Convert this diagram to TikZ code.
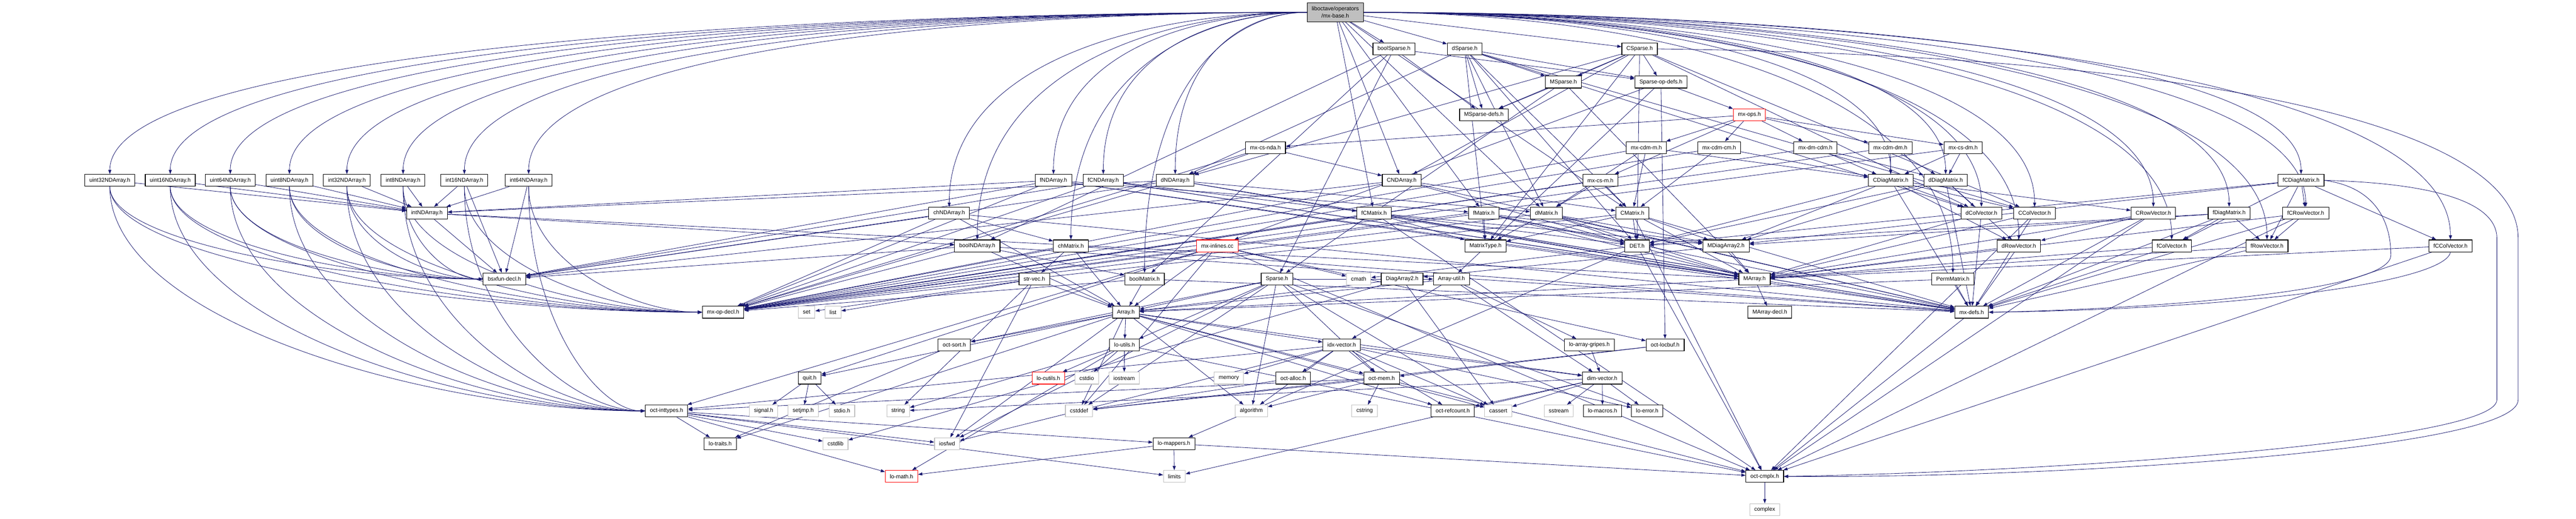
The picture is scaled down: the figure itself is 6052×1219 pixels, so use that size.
\documentclass[tikz,border=0pt]{standalone}
\usepackage{fontspec}
\setmainfont{Liberation Sans}
\usetikzlibrary{arrows.meta,backgrounds}
\definecolor{edgeblue}{HTML}{191970}
\definecolor{sysgray}{HTML}{BFBFBF}
\begin{document}
\begin{tikzpicture}[x=0.5pt, y=-0.5pt]
	\tikzstyle{every node} = [rectangle, draw=black, line width=0.7pt, fill=white, font=\fontsize{6.55}{8.5}\selectfont, inner xsep=5.4pt, inner ysep=0pt, minimum height=14pt]
	\tikzstyle{sysfile} = [draw=sysgray]
	\tikzstyle{cutfile} = [draw=red]
	\tikzstyle{topfile} = [fill=sysgray, align=center, minimum height=22pt]
	\tikzstyle{inc} = [draw=edgeblue, line width=0.5pt, -{Triangle[length=5pt, width=3.6pt]}]
	\useasboundingbox (0, 0) rectangle (6052, 1219);
	\node [topfile] (mxbase) at (3137, 29) {liboctave/operators\\/mx-base.h};
	\node (boolSparse) at (3275, 115) {boolSparse.h};
	\node (dSparse) at (3441, 115) {dSparse.h};
	\node (CSparse) at (3852, 115) {CSparse.h};
	\node (MSparse) at (3673, 193) {MSparse.h};
	\node (spopdefs) at (3902, 193) {Sparse-op-defs.h};
	\node (msdefs) at (3486, 270) {MSparse-defs.h};
	\node [cutfile] (mxops) at (4110, 270) {mx-ops.h};
	\node (mxcsnda) at (2973, 347) {mx-cs-nda.h};
	\node (mxcdmm) at (3868, 347) {mx-cdm-m.h};
	\node (mxcdmcm) at (4039, 347) {mx-cdm-cm.h};
	\node (mxdmcdm) at (4265, 347) {mx-dm-cdm.h};
	\node (mxcdmdm) at (4441, 347) {mx-cdm-dm.h};
	\node (mxcsdm) at (4612, 347) {mx-cs-dm.h};
	\node (u32) at (258, 424) {uint32NDArray.h};
	\node (u16) at (400, 424) {uint16NDArray.h};
	\node (u64) at (541, 424) {uint64NDArray.h};
	\node (u8) at (680, 424) {uint8NDArray.h};
	\node (i32) at (815, 424) {int32NDArray.h};
	\node (i8) at (947, 424) {int8NDArray.h};
	\node (i16) at (1091, 424) {int16NDArray.h};
	\node (i64) at (1242, 424) {int64NDArray.h};
	\node (fNDA) at (2475, 424) {fNDArray.h};
	\node (fCNDA) at (2592, 424) {fCNDArray.h};
	\node (dNDA) at (2761, 424) {dNDArray.h};
	\node (CNDA) at (3293, 424) {CNDArray.h};
	\node (mxcsm) at (3760, 424) {mx-cs-m.h};
	\node (CDiag) at (4442, 424) {CDiagMatrix.h};
	\node (dDiag) at (4571, 424) {dDiagMatrix.h};
	\node (fCDiag) at (5406, 424) {fCDiagMatrix.h};
	\node (intNDA) at (1003, 501) {intNDArray.h};
	\node (chNDA) at (2230, 501) {chNDArray.h};
	\node (fCMat) at (3228, 501) {fCMatrix.h};
	\node (fMat) at (3486, 501) {fMatrix.h};
	\node (dMat) at (3633, 501) {dMatrix.h};
	\node (CMat) at (3835, 501) {CMatrix.h};
	\node (dCol) at (4655, 501) {dColVector.h};
	\node (CCol) at (4780, 501) {CColVector.h};
	\node (CRow) at (5059, 501) {CRowVector.h};
	\node (fDiag) at (5237, 501) {fDiagMatrix.h};
	\node (fCRow) at (5417, 501) {fCRowVector.h};
	\node (boolNDA) at (2296, 578) {boolNDArray.h};
	\node (chMat) at (2516, 578) {chMatrix.h};
	\node [cutfile] (mxinl) at (2860, 578) {mx-inlines.cc};
	\node (mtype) at (3490, 578) {MatrixType.h};
	\node (det) at (3846, 578) {DET.h};
	\node (mdiag) at (4055, 578) {MDiagArray2.h};
	\node (dRow) at (4743, 578) {dRowVector.h};
	\node (fCol) at (5102, 578) {fColVector.h};
	\node (fRow) at (5326, 578) {fRowVector.h};
	\node (fCCol) at (5757, 578) {fCColVector.h};
	\node (bsxfun) at (1185, 656) {bsxfun-decl.h};
	\node (strvec) at (2430, 656) {str-vec.h};
	\node (boolMat) at (2689, 656) {boolMatrix.h};
	\node (sparse) at (3000, 656) {Sparse.h};
	\node [sysfile] (cmath) at (3192, 656) {cmath};
	\node (diag2) at (3294, 656) {DiagArray2.h};
	\node (autil) at (3410, 656) {Array-util.h};
	\node (marray) at (4122, 656) {MArray.h};
	\node (perm) at (4588, 656) {PermMatrix.h};
	\node (opdecl) at (1699, 734) {mx-op-decl.h};
	\node [sysfile] (set) at (1895, 734) {set};
	\node [sysfile] (list) at (1957, 734) {list};
	\node (array) at (2645, 734) {Array.h};
	\node (mdecl) at (4158, 734) {MArray-decl.h};
	\node (mxdefs) at (4632, 734) {mx-defs.h};
	\node (octsort) at (2242, 811) {oct-sort.h};
	\node (loutils) at (2642, 811) {lo-utils.h};
	\node (idxvec) at (3152, 811) {idx-vector.h};
	\node (gripes) at (3734, 811) {lo-array-gripes.h};
	\node (locbuf) at (3912, 811) {oct-locbuf.h};
	\node (quit) at (1902, 889) {quit.h};
	\node [cutfile] (locutils) at (2463, 889) {lo-cutils.h};
	\node [sysfile] (cstdio) at (2553, 889) {cstdio};
	\node [sysfile] (iostream) at (2641, 889) {iostream};
	\node [sysfile] (memory) at (2887, 889) {memory};
	\node (alloc) at (3038, 889) {oct-alloc.h};
	\node (octmem) at (3246, 889) {oct-mem.h};
	\node (dimvec) at (3764, 889) {dim-vector.h};
	\node (inttypes) at (1566, 966) {oct-inttypes.h};
	\node [sysfile] (signal) at (1794, 966) {signal.h};
	\node [sysfile] (setjmp) at (1887, 966) {setjmp.h};
	\node [sysfile] (stdio) at (1978, 966) {stdio.h};
	\node [sysfile] (string) at (2110, 966) {string};
	\node [sysfile] (cstddef) at (2535, 966) {cstddef};
	\node [sysfile] (algorithm) at (2940, 966) {algorithm};
	\node [sysfile] (cstring) at (3206, 966) {cstring};
	\node (refcount) at (3413, 966) {oct-refcount.h};
	\node [sysfile] (cassert) at (3520, 966) {cassert};
	\node [sysfile] (sstream) at (3662, 966) {sstream};
	\node (macros) at (3765, 966) {lo-macros.h};
	\node (loerror) at (3870, 966) {lo-error.h};
	\node (traits) at (1692, 1043) {lo-traits.h};
	\node [sysfile] (cstdlib) at (1963, 1043) {cstdlib};
	\node [sysfile] (iosfwd) at (2225, 1043) {iosfwd};
	\node (mappers) at (2758, 1043) {lo-mappers.h};
	\node [cutfile] (lomath) at (2118, 1120) {lo-math.h};
	\node [sysfile] (limits) at (2759, 1120) {limits};
	\node (cmplx) at (4146, 1120) {oct-cmplx.h};
	\node [sysfile] (complex) at (4146, 1198) {complex};
	\begin{pgfonlayer}{background}
	\draw [inc] (mxbase.west) .. controls (1801, 29) and (258, 124) .. (u32.north);
	\draw [inc] (mxbase.west) .. controls (1871, 29) and (400, 124) .. (u16.north);
	\draw [inc] (mxbase.west) .. controls (1931, 29) and (541, 124) .. (u64.north);
	\draw [inc] (mxbase.west) .. controls (1996, 29) and (680, 124) .. (u8.north);
	\draw [inc] (mxbase.west) .. controls (2056, 29) and (815, 124) .. (i32.north);
	\draw [inc] (mxbase.west) .. controls (2116, 29) and (947, 124) .. (i8.north);
	\draw [inc] (mxbase.west) .. controls (2181, 29) and (1091, 124) .. (i16.north);
	\draw [inc] (mxbase.west) .. controls (2251, 29) and (1242, 124) .. (i64.north);
	\draw [inc] (mxbase.west) .. controls (2691, 29) and (2230, 144) .. (chNDA.north);
	\draw [inc] (mxbase.west) .. controls (2721, 29) and (2296, 164) .. (boolNDA.north);
	\draw [inc] (mxbase.west) .. controls (2821, 29) and (2516, 164) .. (chMat.north);
	\draw [inc] (mxbase.west) .. controls (2901, 29) and (2689, 182) .. (boolMat.north);
	\draw [inc] (mxbase.west) .. controls (2801, 29) and (2475, 124) .. (fNDA.north);
	\draw [inc] (mxbase.west) .. controls (2856, 29) and (2592, 124) .. (fCNDA.north);
	\draw [inc] (mxbase.west) .. controls (2931, 29) and (2761, 124) .. (dNDA.north);
	\draw [inc] (mxbase)--(boolSparse);
	\draw [inc] (mxbase)--(dSparse);
	\draw [inc] (mxbase)--(CSparse);
	\draw [inc] (mxbase)--(CNDA);
	\draw [inc] (mxbase)--(fCMat);
	\draw [inc] (mxbase)--(fMat);
	\draw [inc] (mxbase)--(dMat);
	\draw [inc] (mxbase)--(CMat);
	\draw [inc] (mxbase.east) .. controls (3761, 29) and (4442, 124) .. (CDiag.north);
	\draw [inc] (mxbase.east) .. controls (3819, 29) and (4571, 124) .. (dDiag.north);
	\draw [inc] (mxbase.east) .. controls (4194, 29) and (5406, 124) .. (fCDiag.north);
	\draw [inc] (mxbase.east) .. controls (3854, 29) and (4655, 144) .. (dCol.north);
	\draw [inc] (mxbase.east) .. controls (3914, 29) and (4780, 144) .. (CCol.north);
	\draw [inc] (mxbase.east) .. controls (4039, 29) and (5059, 144) .. (CRow.north);
	\draw [inc] (mxbase.east) .. controls (4119, 29) and (5237, 144) .. (fDiag.north);
	\draw [inc] (mxbase.east) .. controls (4199, 29) and (5417, 144) .. (fCRow.north);
	\draw [inc] (mxbase.east) .. controls (3894, 29) and (4743, 164) .. (dRow.north);
	\draw [inc] (mxbase.east) .. controls (4059, 29) and (5102, 164) .. (fCol.north);
	\draw [inc] (mxbase.east) .. controls (4159, 29) and (5326, 164) .. (fRow.north);
	\draw [inc] (mxbase.east) .. controls (4354, 29) and (5757, 164) .. (fCCol.north);
	\draw [inc] (mxbase.east) .. controls (3824, 29) and (4588, 182) .. (perm.north);
	\draw [inc] (boolSparse)--(sparse);
	\draw [inc] (boolSparse)--(msdefs);
	\draw [inc] (boolSparse)--(spopdefs);
	\draw [inc] (boolSparse)--(boolMat);
	\draw [inc] (boolSparse)--(boolNDA);
	\draw [inc] (dSparse)--(MSparse);
	\draw [inc] (dSparse)--(msdefs);
	\draw [inc] (dSparse)--(spopdefs);
	\draw [inc] (dSparse)--(dMat);
	\draw [inc] (dSparse)--(CMat);
	\draw [inc] (dSparse)--(dNDA);
	\draw [inc] (dSparse)--(dCol);
	\draw [inc] (dSparse)--(CCol);
	\draw [inc] (dSparse)--(det);
	\draw [inc] (dSparse)--(mtype);
	\draw [inc] (CSparse)--(MSparse);
	\draw [inc] (CSparse)--(msdefs);
	\draw [inc] (CSparse)--(spopdefs);
	\draw [inc] (CSparse)--(dNDA);
	\draw [inc] (CSparse)--(CNDA);
	\draw [inc] (CSparse)--(dCol);
	\draw [inc] (CSparse)--(CCol);
	\draw [inc] (CSparse.east) .. controls (5200, 130) and (5916, 300) .. (5916, 560) -- (5916, 940) .. controls (5916, 1060) and (4800, 1125) .. (cmplx.east);
	\draw [inc] (CSparse)--(det);
	\draw [inc] (CSparse)--(mtype);
	\draw [inc] (MSparse)--(marray);
	\draw [inc] (MSparse)--(sparse);
	\draw [inc] (MSparse)--(msdefs);
	\draw [inc] (spopdefs)--(autil);
	\draw [inc] (spopdefs)--(mxops);
	\draw [inc] (spopdefs)--(locbuf);
	\draw [inc] (spopdefs)--(mxinl);
	\draw [inc] (mxops)--(mxcsnda);
	\draw [inc] (mxops)--(mxcdmm);
	\draw [inc] (mxops)--(mxcdmcm);
	\draw [inc] (mxops)--(mxdmcdm);
	\draw [inc] (mxops)--(mxcdmdm);
	\draw [inc] (mxops)--(mxcsdm);
	\draw [inc] (mxops)--(mxcsm);
	\draw [inc] (mxcsnda)--(dNDA);
	\draw [inc] (mxcsnda)--(CNDA);
	\draw [inc] (mxcsnda)--(opdecl);
	\draw [inc] (mxcdmm)--(CDiag);
	\draw [inc] (mxcdmm)--(dMat);
	\draw [inc] (mxcdmm)--(CMat);
	\draw [inc] (mxcdmm)--(opdecl);
	\draw [inc] (mxcdmcm)--(CDiag);
	\draw [inc] (mxcdmcm)--(CMat);
	\draw [inc] (mxcdmcm)--(opdecl);
	\draw [inc] (mxdmcdm)--(dDiag);
	\draw [inc] (mxdmcdm)--(CDiag);
	\draw [inc] (mxdmcdm)--(opdecl);
	\draw [inc] (mxcdmdm)--(CDiag);
	\draw [inc] (mxcdmdm)--(dDiag);
	\draw [inc] (mxcdmdm)--(opdecl);
	\draw [inc] (mxcsdm)--(CDiag);
	\draw [inc] (mxcsdm)--(dDiag);
	\draw [inc] (mxcsdm)--(opdecl);
	\draw [inc] (mxcsm)--(dMat);
	\draw [inc] (mxcsm)--(CMat);
	\draw [inc] (mxcsm)--(opdecl);
	\draw [inc] (u32)--(intNDA);
	\draw [inc] (u32.south) .. controls (258, 568) and (785, 656) .. (bsxfun.west);
	\draw [inc] (u32.south) .. controls (258, 616) and (1093, 734) .. (opdecl.west);
	\draw [inc] (u32.south) .. controls (258, 755) and (1013, 966) .. (inttypes.west);
	\draw [inc] (u16)--(intNDA);
	\draw [inc] (u16.south) .. controls (400, 568) and (841, 656) .. (bsxfun.west);
	\draw [inc] (u16.south) .. controls (400, 616) and (1150, 734) .. (opdecl.west);
	\draw [inc] (u16.south) .. controls (400, 755) and (1070, 966) .. (inttypes.west);
	\draw [inc] (u64)--(intNDA);
	\draw [inc] (u64.south) .. controls (541, 568) and (897, 656) .. (bsxfun.west);
	\draw [inc] (u64.south) .. controls (541, 616) and (1206, 734) .. (opdecl.west);
	\draw [inc] (u64.south) .. controls (541, 755) and (1126, 966) .. (inttypes.west);
	\draw [inc] (u8)--(intNDA);
	\draw [inc] (u8.south) .. controls (680, 568) and (953, 656) .. (bsxfun.west);
	\draw [inc] (u8.south) .. controls (680, 616) and (1262, 734) .. (opdecl.west);
	\draw [inc] (u8.south) .. controls (680, 755) and (1182, 966) .. (inttypes.west);
	\draw [inc] (i32)--(intNDA);
	\draw [inc] (i32.south) .. controls (815, 568) and (1007, 656) .. (bsxfun.west);
	\draw [inc] (i32.south) .. controls (815, 616) and (1316, 734) .. (opdecl.west);
	\draw [inc] (i32.south) .. controls (815, 755) and (1236, 966) .. (inttypes.west);
	\draw [inc] (i8)--(intNDA);
	\draw [inc] (i8.south) .. controls (947, 568) and (1060, 656) .. (bsxfun.west);
	\draw [inc] (i8.south) .. controls (947, 616) and (1369, 734) .. (opdecl.west);
	\draw [inc] (i8.south) .. controls (947, 755) and (1288, 966) .. (inttypes.west);
	\draw [inc] (i16)--(intNDA);
	\draw [inc] (i16)--(bsxfun);
	\draw [inc] (i16.south) .. controls (1091, 616) and (1426, 734) .. (opdecl.west);
	\draw [inc] (i16.south) .. controls (1091, 755) and (1346, 966) .. (inttypes.west);
	\draw [inc] (i64)--(intNDA);
	\draw [inc] (i64)--(bsxfun);
	\draw [inc] (i64.south) .. controls (1242, 616) and (1487, 734) .. (opdecl.west);
	\draw [inc] (i64.south) .. controls (1242, 755) and (1406, 966) .. (inttypes.west);
	\draw [inc] (fNDA)--(marray);
	\draw [inc] (fNDA)--(fMat);
	\draw [inc] (fNDA)--(intNDA);
	\draw [inc] (fNDA)--(mxdefs);
	\draw [inc] (fNDA)--(opdecl);
	\draw [inc] (fNDA)--(bsxfun);
	\draw [inc] (fCNDA)--(marray);
	\draw [inc] (fCNDA)--(fCMat);
	\draw [inc] (fCNDA)--(mxdefs);
	\draw [inc] (fCNDA)--(opdecl);
	\draw [inc] (fCNDA)--(bsxfun);
	\draw [inc] (dNDA)--(marray);
	\draw [inc] (dNDA)--(dMat);
	\draw [inc] (dNDA)--(intNDA);
	\draw [inc] (dNDA)--(mxdefs);
	\draw [inc] (dNDA)--(opdecl);
	\draw [inc] (dNDA)--(bsxfun);
	\draw [inc] (CNDA)--(marray);
	\draw [inc] (CNDA)--(CMat);
	\draw [inc] (CNDA)--(mxdefs);
	\draw [inc] (CNDA)--(opdecl);
	\draw [inc] (CNDA)--(bsxfun);
	\draw [inc] (CDiag)--(mdiag);
	\draw [inc] (CDiag)--(dRow);
	\draw [inc] (CDiag)--(CRow);
	\draw [inc] (CDiag)--(dCol);
	\draw [inc] (CDiag)--(CCol);
	\draw [inc] (CDiag)--(det);
	\draw [inc] (CDiag)--(mxdefs);
	\draw [inc] (dDiag)--(mdiag);
	\draw [inc] (dDiag)--(dRow);
	\draw [inc] (dDiag)--(dCol);
	\draw [inc] (dDiag)--(det);
	\draw [inc] (dDiag)--(mxdefs);
	\draw [inc] (fCDiag)--(mdiag);
	\draw [inc] (fCDiag)--(fRow);
	\draw [inc] (fCDiag)--(fCRow);
	\draw [inc] (fCDiag)--(fCol);
	\draw [inc] (fCDiag)--(fCCol);
	\draw [inc] (fCDiag)--(det);
	\draw [inc] (fCDiag.east) .. controls (5580, 440) and (5617, 520) .. (5617, 600) .. controls (5617, 690) and (5000, 728) .. (mxdefs.east);
	\draw [inc] (fCDiag.east) .. controls (5700, 430) and (5866, 470) .. (5866, 560) -- (5866, 940) .. controls (5866, 1040) and (4800, 1110) .. (cmplx.east);
	\draw [inc] (intNDA)--(marray);
	\draw [inc] (intNDA)--(boolNDA);
	\draw [inc] (intNDA)--(bsxfun);
	\draw [inc] (chNDA)--(array);
	\draw [inc] (chNDA)--(chMat);
	\draw [inc] (chNDA)--(mxdefs);
	\draw [inc] (chNDA)--(opdecl);
	\draw [inc] (chNDA)--(bsxfun);
	\draw [inc] (fCMat)--(marray);
	\draw [inc] (fCMat)--(mdiag);
	\draw [inc] (fCMat)--(mtype);
	\draw [inc] (fCMat)--(det);
	\draw [inc] (fCMat)--(mxdefs);
	\draw [inc] (fCMat)--(opdecl);
	\draw [inc] (fCMat)--(cmplx);
	\draw [inc] (fMat)--(marray);
	\draw [inc] (fMat)--(mdiag);
	\draw [inc] (fMat)--(mtype);
	\draw [inc] (fMat)--(det);
	\draw [inc] (fMat)--(mxdefs);
	\draw [inc] (fMat)--(opdecl);
	\draw [inc] (dMat)--(marray);
	\draw [inc] (dMat)--(mdiag);
	\draw [inc] (dMat)--(mtype);
	\draw [inc] (dMat)--(det);
	\draw [inc] (dMat)--(mxdefs);
	\draw [inc] (dMat)--(opdecl);
	\draw [inc] (CMat)--(marray);
	\draw [inc] (CMat)--(mdiag);
	\draw [inc] (CMat)--(mtype);
	\draw [inc] (CMat)--(det);
	\draw [inc] (CMat)--(mxdefs);
	\draw [inc] (CMat)--(opdecl);
	\draw [inc] (CMat)--(cmplx);
	\draw [inc] (dCol)--(marray);
	\draw [inc] (dCol)--(mxdefs);
	\draw [inc] (CCol)--(marray);
	\draw [inc] (CCol)--(mxdefs);
	\draw [inc] (CCol)--(cmplx);
	\draw [inc] (CRow)--(marray);
	\draw [inc] (CRow)--(dRow);
	\draw [inc] (CRow)--(mxdefs);
	\draw [inc] (CRow)--(cmplx);
	\draw [inc] (fDiag)--(mdiag);
	\draw [inc] (fDiag)--(fRow);
	\draw [inc] (fDiag)--(fCol);
	\draw [inc] (fDiag)--(det);
	\draw [inc] (fDiag)--(mxdefs);
	\draw [inc] (fCRow)--(marray);
	\draw [inc] (fCRow)--(fRow);
	\draw [inc] (fCRow)--(mxdefs);
	\draw [inc] (fCRow)--(cmplx);
	\draw [inc] (boolNDA)--(array);
	\draw [inc] (boolNDA)--(boolMat);
	\draw [inc] (boolNDA)--(mxdefs);
	\draw [inc] (boolNDA)--(opdecl);
	\draw [inc] (boolNDA)--(bsxfun);
	\draw [inc] (chMat)--(array);
	\draw [inc] (chMat)--(strvec);
	\draw [inc] (chMat)--(mxdefs);
	\draw [inc] (chMat)--(opdecl);
	\draw [inc] (mxinl)--(cstddef);
	\draw [inc] (mxinl)--(cmath);
	\draw [inc] (mxinl)--(quit);
	\draw [inc] (mxinl)--(cmplx);
	\draw [inc] (mxinl)--(locbuf);
	\draw [inc] (mxinl)--(inttypes);
	\draw [inc] (mxinl)--(array);
	\draw [inc] (det)--(cmath);
	\draw [inc] (det)--(cmplx);
	\draw [inc] (det)--(mappers);
	\draw [inc] (mdiag)--(diag2);
	\draw [inc] (mdiag)--(marray);
	\draw [inc] (dRow)--(marray);
	\draw [inc] (dRow)--(mxdefs);
	\draw [inc] (fCol)--(marray);
	\draw [inc] (fCol)--(mxdefs);
	\draw [inc] (fRow)--(marray);
	\draw [inc] (fRow)--(mxdefs);
	\draw [inc] (fCCol)--(marray);
	\draw [inc] (fCCol.south) .. controls (5745, 660) and (5300, 726) .. (mxdefs.east);
	\draw [inc] (fCCol)--(cmplx);
	\draw [inc] (strvec)--(set);
	\draw [inc] (strvec)--(list);
	\draw [inc] (strvec)--(string);
	\draw [inc] (strvec)--(iosfwd);
	\draw [inc] (strvec)--(array);
	\draw [inc] (boolMat)--(array);
	\draw [inc] (boolMat)--(mxdefs);
	\draw [inc] (boolMat)--(opdecl);
	\draw [inc] (sparse)--(array);
	\draw [inc] (sparse)--(autil);
	\draw [inc] (sparse)--(cassert);
	\draw [inc] (sparse)--(cstddef);
	\draw [inc] (sparse)--(iosfwd);
	\draw [inc] (sparse)--(algorithm);
	\draw [inc] (sparse)--(loerror);
	\draw [inc] (sparse)--(loutils);
	\draw [inc] (sparse)--(octsort);
	\draw [inc] (sparse)--(octmem);
	\draw [inc] (diag2)--(array);
	\draw [inc] (diag2)--(cassert);
	\draw [inc] (diag2)--(cstdlib);
	\draw [inc] (autil)--(array);
	\draw [inc] (autil)--(dimvec);
	\draw [inc] (autil)--(idxvec);
	\draw [inc] (autil)--(gripes);
	\draw [inc] (marray)--(array);
	\draw [inc] (marray)--(mdecl);
	\draw [inc] (perm)--(array);
	\draw [inc] (perm)--(mxdefs);
	\draw [inc] (array)--(idxvec);
	\draw [inc] (array)--(dimvec);
	\draw [inc] (array)--(loutils);
	\draw [inc] (array)--(octsort);
	\draw [inc] (array)--(quit);
	\draw [inc] (array)--(octmem);
	\draw [inc] (array)--(refcount);
	\draw [inc] (array)--(cassert);
	\draw [inc] (array)--(cstddef);
	\draw [inc] (array)--(algorithm);
	\draw [inc] (array)--(iosfwd);
	\draw [inc] (array)--(traits);
	\draw [inc] (mxdefs)--(cmplx);
	\draw [inc] (octsort)--(traits);
	\draw [inc] (loutils)--(locutils);
	\draw [inc] (loutils)--(cstdio);
	\draw [inc] (loutils)--(iostream);
	\draw [inc] (loutils)--(string);
	\draw [inc] (loutils)--(cmplx);
	\draw [inc] (loutils)--(lomath);
	\draw [inc] (idxvec)--(cassert);
	\draw [inc] (idxvec)--(algorithm);
	\draw [inc] (idxvec)--(iosfwd);
	\draw [inc] (idxvec)--(memory);
	\draw [inc] (idxvec)--(dimvec);
	\draw [inc] (idxvec)--(inttypes);
	\draw [inc] (idxvec)--(alloc);
	\draw [inc] (idxvec)--(octmem);
	\draw [inc] (idxvec)--(refcount);
	\draw [inc] (idxvec)--(loerror);
	\draw [inc] (gripes)--(dimvec);
	\draw [inc] (locbuf)--(cstddef);
	\draw [inc] (locbuf)--(octmem);
	\draw [inc] (quit)--(signal);
	\draw [inc] (quit)--(setjmp);
	\draw [inc] (quit)--(stdio);
	\draw [inc] (alloc)--(cstddef);
	\draw [inc] (octmem)--(cstddef);
	\draw [inc] (octmem)--(cstring);
	\draw [inc] (octmem)--(algorithm);
	\draw [inc] (octmem)--(cmplx);
	\draw [inc] (octmem)--(inttypes);
	\draw [inc] (dimvec)--(cassert);
	\draw [inc] (dimvec)--(limits);
	\draw [inc] (dimvec)--(sstream);
	\draw [inc] (dimvec)--(string);
	\draw [inc] (dimvec)--(loerror);
	\draw [inc] (dimvec)--(macros);
	\draw [inc] (dimvec)--(refcount);
	\draw [inc] (inttypes)--(traits);
	\draw [inc] (inttypes)--(cstdlib);
	\draw [inc] (inttypes)--(limits);
	\draw [inc] (inttypes)--(iosfwd);
	\draw [inc] (inttypes)--(lomath);
	\draw [inc] (inttypes)--(mappers);
	\draw [inc] (mappers)--(limits);
	\draw [inc] (mappers)--(lomath);
	\draw [inc] (mappers)--(cmplx);
	\draw [inc] (cmplx)--(complex);
	\end{pgfonlayer}
\end{tikzpicture}
\end{document}
